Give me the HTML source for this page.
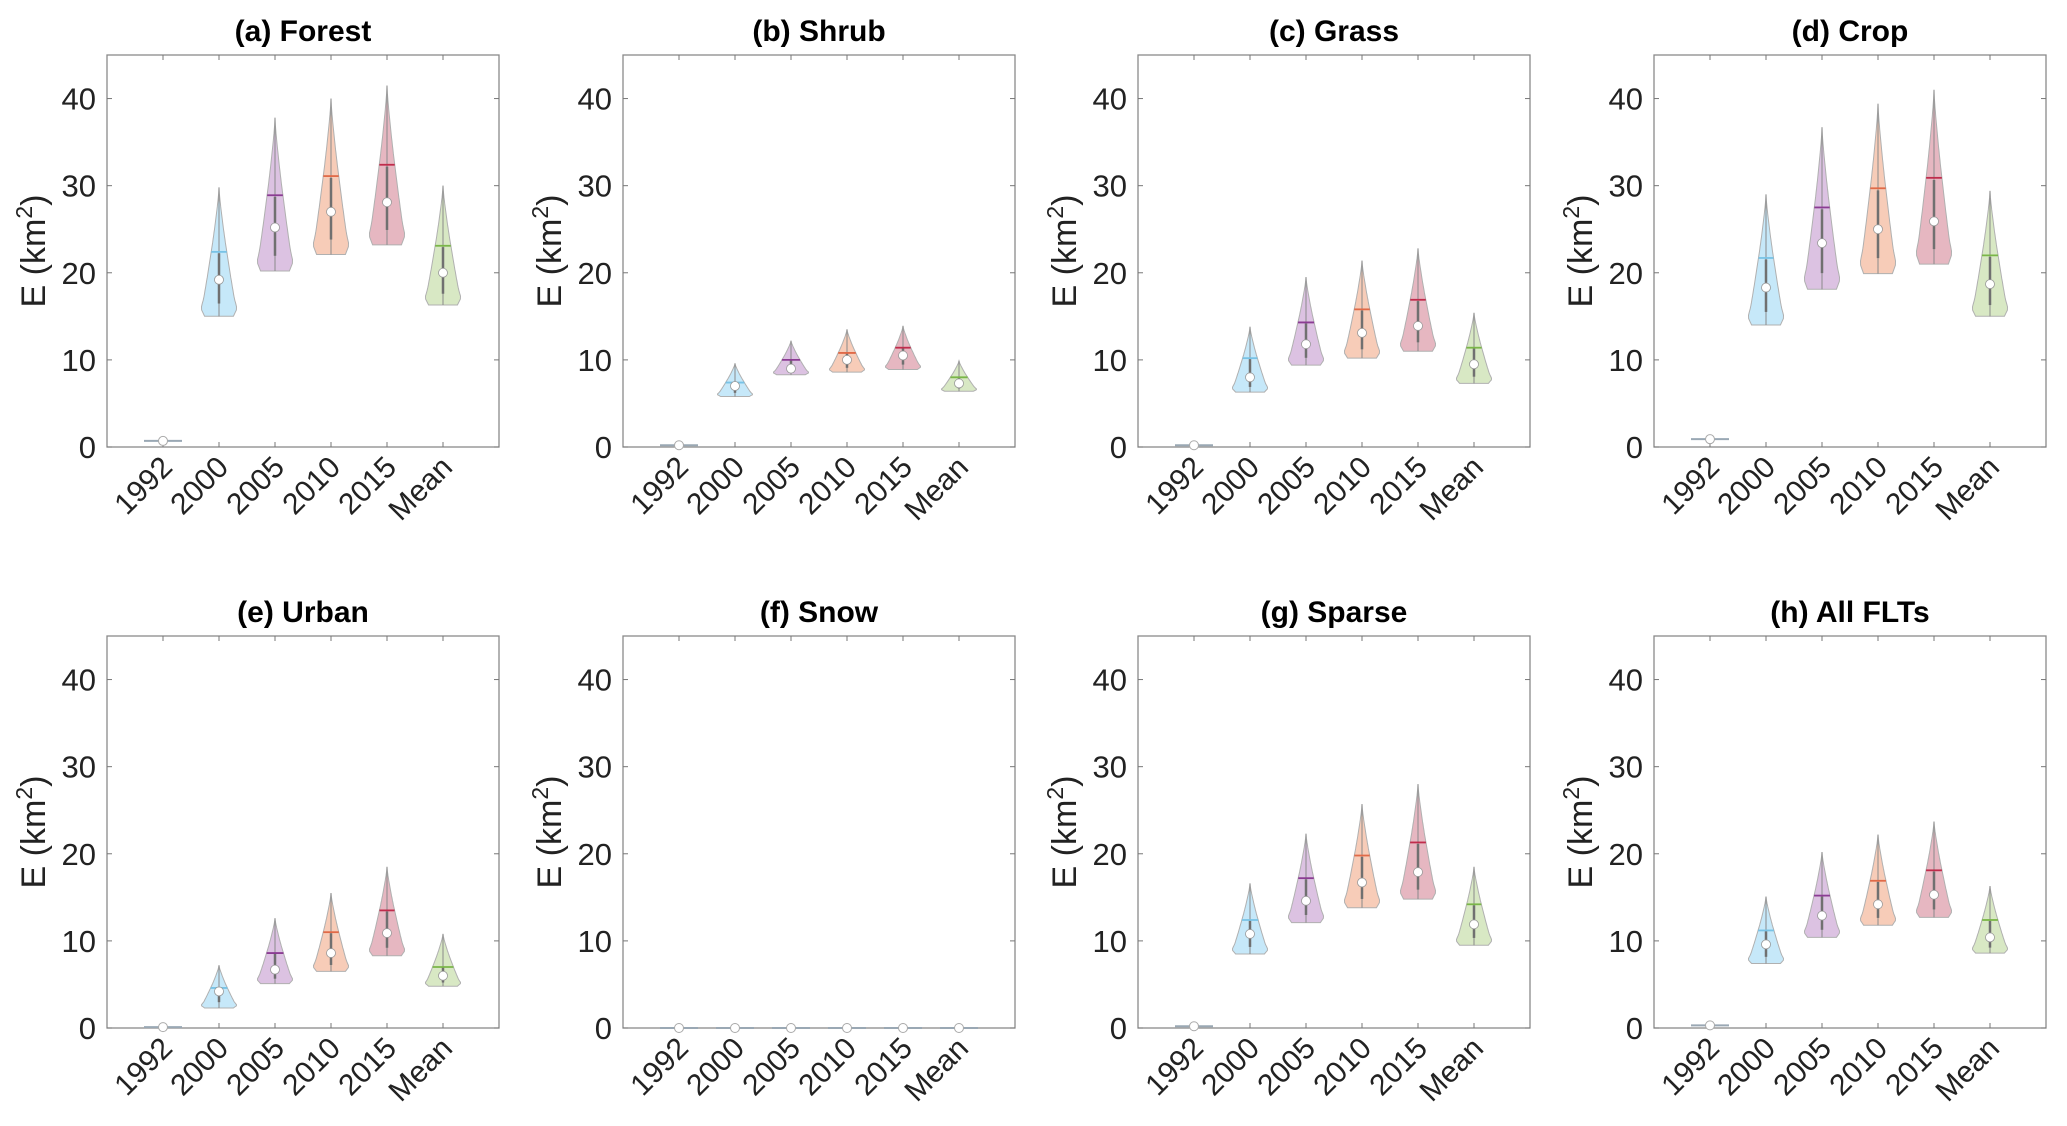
<!DOCTYPE html>
<html><head><meta charset="utf-8">
<style>
html,body{margin:0;padding:0;background:#fff;}
svg{display:block;font-family:"Liberation Sans",Arial,sans-serif;}
</style></head>
<body>
<svg id="fig" width="2067" height="1126" viewBox="0 0 2067 1126"></svg>
<script>
const categories = ["1992","2000","2005","2010","2015","Mean"];
const yTicks = [0,10,20,30,40];
const panelTitles = ["(a) Forest","(b) Shrub","(c) Grass","(d) Crop","(e) Urban","(f) Snow","(g) Sparse","(h) All FLTs"];
// per panel: maxima, minima, means, medians for each category
const highs = [
 [0.7,29.8,37.8,40.0,41.5,30.0],
 [0.2,9.6,12.2,13.5,13.9,9.9],
 [0.2,13.8,19.5,21.4,22.8,15.4],
 [0.9,29.0,36.7,39.4,41.0,29.4],
 [0.1,7.2,12.6,15.5,18.5,10.8],
 [0,0,0,0,0,0],
 [0.2,16.6,22.3,25.7,28.0,18.5],
 [0.3,15.1,20.2,22.2,23.7,16.3]];
const lows = [
 [0.7,15.0,20.2,22.1,23.2,16.3],
 [0.2,5.8,8.3,8.6,8.9,6.4],
 [0.2,6.3,9.4,10.2,11.0,7.3],
 [0.9,14.0,18.1,19.9,21.0,15.0],
 [0.1,2.3,5.1,6.5,8.3,4.8],
 [0,0,0,0,0,0],
 [0.2,8.5,12.1,13.8,14.8,9.5],
 [0.3,7.4,10.4,11.8,12.7,8.6]];
const means = [
 [0.7,22.4,28.9,31.1,32.4,23.1],
 [0.2,7.4,10.0,10.8,11.4,8.0],
 [0.2,10.2,14.3,15.8,16.9,11.4],
 [0.9,21.7,27.5,29.7,30.9,22.0],
 [0.1,4.6,8.6,11.0,13.5,7.0],
 [0,0,0,0,0,0],
 [0.2,12.4,17.2,19.8,21.3,14.2],
 [0.3,11.2,15.2,16.9,18.1,12.4]];
const medians = [
 [0.7,19.2,25.2,27.0,28.1,20.0],
 [0.2,7.0,9.0,10.0,10.5,7.3],
 [0.2,8.0,11.8,13.1,13.9,9.5],
 [0.9,18.3,23.4,25.0,25.9,18.7],
 [0.1,4.2,6.7,8.6,10.9,6.0],
 [0,0,0,0,0,0],
 [0.2,10.8,14.6,16.7,17.9,11.9],
 [0.3,9.6,12.9,14.2,15.3,10.4]];

const fills = ["#c8d4e0","#c6e8f9","#dcc2e2","#f7ccb8","#e6b7c1","#d8e8c4"];
const lineCols = ["#8fa3b8","#79c3e6","#8b3c93","#e06a48","#c02c4c","#7ab648"];
const lefts = [107,623,1138,1654];
const tops = [55,636];
const W = 392, H = 392, YMAX = 45;
const NS = "http://www.w3.org/2000/svg";
const svg = document.getElementById("fig");
function mk(tag, attrs, parent){
  const e = document.createElementNS(NS, tag);
  for (const k in attrs) e.setAttribute(k, attrs[k]);
  (parent||svg).appendChild(e);
  return e;
}
for (let p = 0; p < 8; p++) {
  const L = lefts[p%4], T = tops[Math.floor(p/4)];
  const g = mk("g", {});
  
  
  const xs = i => L + (i+1) * W/7;
  const ys = v => T + H - v / YMAX * H;
  const fr = mk("rect", {x:L, y:T, width:W, height:H, fill:"none", stroke:"#8a8a8a", "stroke-width":1.3}, g);
  
  
  yTicks.forEach(t => {
    const y = ys(t);
    mk("line", {x1:L, x2:L+5, y1:y, y2:y, stroke:"#777", "stroke-width":1}, g);
    mk("line", {x1:L+W-5, x2:L+W, y1:y, y2:y, stroke:"#777", "stroke-width":1}, g);
    const tx = mk("text", {x:L-11, y:y+11, "text-anchor":"end", "font-size":31, fill:"#222"}, g);
    tx.textContent = t;
    
    
  });
  categories.forEach((c, i) => {
    const x = xs(i);
    mk("line", {x1:x, x2:x, y1:T+H, y2:T+H-5, stroke:"#777", "stroke-width":1}, g);
    mk("line", {x1:x, x2:x, y1:T, y2:T+5, stroke:"#777", "stroke-width":1}, g);
    const tx = mk("text", {x:x+11, y:T+H+22, "text-anchor":"end", "font-size":30, fill:"#222",
      transform:`rotate(-45 ${x+11} ${T+H+22})`}, g);
    tx.textContent = c;
    
    
  });
  const ti = mk("text", {x:L+W/2, y:T-14, "text-anchor":"middle", "font-size":30, "font-weight":"bold", fill:"#000"}, g);
  ti.textContent = panelTitles[p];
  
  
  const yl = mk("text", {x:0, y:0, "text-anchor":"middle", "font-size":34, fill:"#222",
    transform:`translate(${L-62} ${T+H/2}) rotate(-90)`}, g);
  yl.innerHTML = 'E (km<tspan dy="-13" font-size="23">2</tspan><tspan dy="13">)</tspan>';
  
  
  categories.forEach((c, i) => {
    const x = xs(i);
    const lo = lows[p][i], hi = highs[p][i], mn = means[p][i], md = medians[p][i];
    const vg = mk("g", {}, g);
    
    
    const range = hi - lo;
    const Wd = 18;
    if (range * H / YMAX < 3) {
      mk("line", {x1:x-19, x2:x+19, y1:ys(lo), y2:ys(lo), stroke:"#9aa8b4", "stroke-width":2}, vg);
      mk("circle", {cx:x, cy:ys(md), r:4.5, fill:"#fff", stroke:"#aaa", "stroke-width":1}, vg);
      return;
    }
    const hw = t => {
      if (t < 0.06) return Wd*(0.8 + 0.2*t/0.06);
      if (t < 0.14) return Wd*(1 - 0.15*(t-0.06)/0.08);
      return Wd*0.85*Math.pow((1-t)/0.86, 1.25);
    };
    let right = [], left = [];
    const N = 40;
    for (let k = 0; k <= N; k++) {
      const t = k/N, v = lo + t*range, y = ys(v), w = hw(t);
      right.push(`${(x+w).toFixed(1)},${y.toFixed(1)}`);
      left.unshift(`${(x-w).toFixed(1)},${y.toFixed(1)}`);
    }
    mk("polygon", {points: right.concat(left).join(" "), fill:fills[i], stroke:"#b0b0b0", "stroke-width":1}, vg);
    mk("line", {x1:x, x2:x, y1:ys(lo), y2:ys(hi), stroke:"#8a8a8a", "stroke-width":1}, vg);
    const q1 = lo + (md-lo)*0.35, q3 = md + (mn-md)*0.95;
    mk("line", {x1:x, x2:x, y1:ys(q1), y2:ys(q3), stroke:"#707070", "stroke-width":2.5}, vg);
    const tm = (mn-lo)/range, mw = hw(tm);
    mk("line", {x1:x-mw, x2:x+mw, y1:ys(mn), y2:ys(mn), stroke:lineCols[i], "stroke-width":1.8}, vg);
    mk("circle", {cx:x, cy:ys(md), r:4.5, fill:"#fff", stroke:"#999", "stroke-width":0.8}, vg);
  });
}
</script>
</body></html>
